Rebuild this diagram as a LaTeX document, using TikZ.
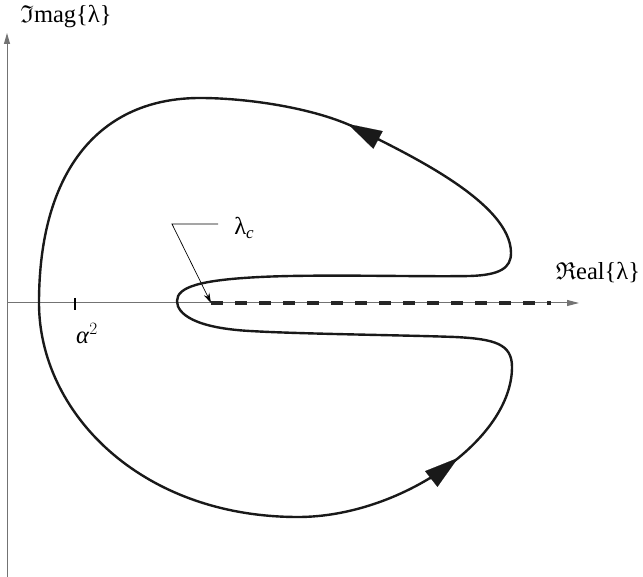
\documentclass[tikz,border=0pt]{standalone}
\usepackage{amssymb}
\usepackage{fontspec}
\setmainfont{Liberation Serif}
\usetikzlibrary{arrows.meta}
\begin{document}
\begin{tikzpicture}[x=1pt,y=-1pt,
  axisline/.style={draw=black!55,line width=1pt},
  curveline/.style={draw=black!90,line width=2.4pt,line join=round},
  dirtip/.style={black!90,line width=0.1pt,-{Triangle[length=34pt,width=20pt]}},
  lbl/.style={font=\fontsize{24.5}{28}\selectfont,inner sep=0pt},
  leader/.style={draw=black,line width=0.7pt}]
\useasboundingbox (0,0) rectangle (643,577);
% axes
\coordinate (O) at (7,303);
\coordinate (ybot) at (7,577);
\coordinate (ytop) at (7,33);
\coordinate (xend) at (579,303);
\draw[axisline,-{Triangle[length=11pt,width=6pt]}] (ybot) -- (ytop);
\draw[axisline,-{Triangle[length=12pt,width=6pt]}] (O) -- (xend);
% tick alpha^2
\coordinate (tk1) at (75,298);
\coordinate (tk2) at (75,310);
\draw[black,line width=2pt] (tk1) -- (tk2);
\node[lbl] (alpha) at (87,334) {\textit{α}$^{2}$};
% labels
\node[lbl] (imag) at (66,17) {$\mathfrak{I}$mag\{λ\}};
\node[lbl] (real) at (598,273) {$\mathfrak{R}$eal\{λ\}};
% dashed cut
\coordinate (lc) at (211,303);
\coordinate (cutend) at (551,303);
\draw[black!85,line width=3.2pt,dash pattern=on 12pt off 12pt] (lc) -- (cutend);
% leader to lambda_c
\node[lbl] (lam) at (244,228) {λ\textit{\fontsize{17}{19}\selectfont\raisebox{-4pt}{c}}};
\coordinate (ld1) at (218,224);
\coordinate (ld2) at (172,224);
\draw[leader,-{Stealth[length=10pt,width=6pt]}] (ld1) -- (ld2) -- (lc);
% contour
\draw[curveline] (298,517)
  .. controls (400,517) and (512,440) .. (512,367)
  .. controls (512,344) and (495,339) .. (455,337)
  .. controls (400,335) and (300,334) .. (250,331)
  .. controls (195,328) and (177,314) .. (177,301)
  .. controls (177,287) and (200,280) .. (260,277)
  .. controls (320,274) and (420,277) .. (470,276)
  .. controls (500,275) and (511,268) .. (511,253)
  .. controls (511,202) and (405,153) .. (360,130)
  .. controls (320,109) and (250,98) .. (200,98)
  .. controls (100,98) and (39,170) .. (39,303)
  .. controls (39,412) and (140,517) .. (298,517) -- cycle;
% direction arrows
\coordinate (a1b) at (380,141);
\coordinate (a1t) at (348,124);
\coordinate (a2b) at (430,480);
\coordinate (a2t) at (458,458);
\draw[dirtip] (a1b) -- (a1t);
\draw[dirtip] (a2b) -- (a2t);
\end{tikzpicture}
\end{document}
